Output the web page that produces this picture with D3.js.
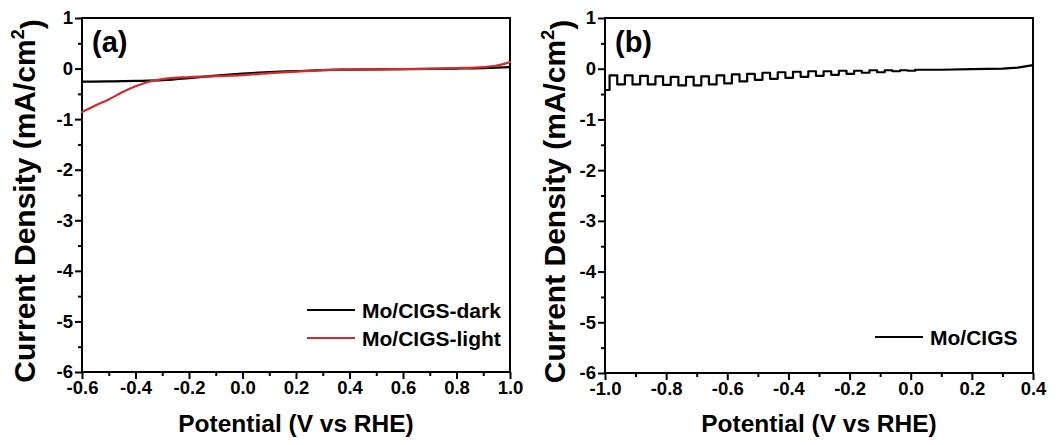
<!DOCTYPE html>
<html><head><meta charset="utf-8">
<script src="https://cdn.jsdelivr.net/npm/d3@7"></script>
<style>
html,body{margin:0;padding:0;background:#fff;}
svg{display:block;font-family:"Liberation Sans",Arial,sans-serif;font-weight:bold;}
</style></head>
<body><svg id="c" width="1061" height="445"></svg>
<script>
// ---------- data ----------
// Panel (a): dark and light J-V curves
const aDarkV  = [-0.6,-0.5,-0.4,-0.3,-0.2,-0.1,0.0,0.1,0.2,0.3,0.4,0.6,0.8,0.9,1.0];
const aDarkJ  = [-0.26,-0.255,-0.245,-0.23,-0.19,-0.14,-0.10,-0.07,-0.05,-0.03,-0.02,-0.01,0.0,0.01,0.03];
const aLightV = [-0.6,-0.55,-0.5,-0.45,-0.4,-0.35,-0.3,-0.2,-0.1,0.0,0.1,0.2,0.3,0.4,0.6,0.8,0.9,0.95,1.0];
const aLightJ = [-0.86,-0.73,-0.61,-0.47,-0.35,-0.26,-0.21,-0.17,-0.15,-0.13,-0.09,-0.06,-0.03,-0.02,-0.01,0.01,0.03,0.06,0.13];
// Panel (b): chopped-light scan (step levels) and the flat tail
const bChopV = [-1.000,-0.985,-0.960,-0.935,-0.910,-0.885,-0.860,-0.835,-0.810,-0.785,-0.760,-0.735,-0.710,-0.685,-0.660,-0.635,-0.610,-0.585,-0.560,-0.535,-0.510,-0.485,-0.460,-0.435,-0.410,-0.385,-0.360,-0.335,-0.310,-0.285,-0.260,-0.235,-0.210,-0.185,-0.160,-0.135,-0.110,-0.085,-0.060,-0.035,-0.010,0.015];
const bChopJ = [-0.42,-0.13,-0.31,-0.13,-0.31,-0.14,-0.31,-0.15,-0.32,-0.16,-0.33,-0.16,-0.33,-0.15,-0.31,-0.13,-0.29,-0.11,-0.25,-0.10,-0.22,-0.08,-0.20,-0.07,-0.18,-0.06,-0.16,-0.05,-0.14,-0.05,-0.12,-0.04,-0.10,-0.04,-0.08,-0.03,-0.07,-0.03,-0.05,-0.03,-0.04,-0.02];
const bTailV = [0.015,0.10,0.20,0.30,0.35,0.40];
const bTailJ = [-0.02,-0.02,-0.01,0.00,0.02,0.07];
// ticks
const yTicks = [1,0,-1,-2,-3,-4,-5,-6];
const yMinor = [0.5,-0.5,-1.5,-2.5,-3.5,-4.5,-5.5];
const aXTicks = [-0.6,-0.4,-0.2,0.0,0.2,0.4,0.6,0.8,1.0];
const aXMinor = [-0.5,-0.3,-0.1,0.1,0.3,0.5,0.7,0.9];
const bXTicks = [-1.0,-0.8,-0.6,-0.4,-0.2,0.0,0.2,0.4];
const bXMinor = [-0.9,-0.7,-0.5,-0.3,-0.1,0.1,0.3];
const legendA = ["Mo/CIGS-dark","Mo/CIGS-light"];
const legendB = ["Mo/CIGS"];
const xTitle = "Potential (V vs RHE)";

// ---------- drawing ----------
const svg = d3.select("#c");
const zip = (a,b)=>a.map((v,i)=>[v,b[i]]);

function panel(cfg){
  const x = d3.scaleLinear().domain(cfg.xd).range([cfg.left, cfg.right]);
  const y = d3.scaleLinear().domain([-6,1]).range([cfg.bottom, cfg.top]);
  const g = svg.append("g");
  const fmtX = d=>d.toFixed(1);
  const fmtY = d=>String(d);
  const ax = g.append("g").attr("transform",`translate(0,${cfg.bottom})`)
    .call(d3.axisBottom(x).tickValues(cfg.xt).tickFormat(fmtX).tickSize(7).tickPadding(2));
  const axm = g.append("g").attr("transform",`translate(0,${cfg.bottom})`)
    .call(d3.axisBottom(x).tickValues(cfg.xm).tickFormat("").tickSize(4));
  const ay = g.append("g").attr("transform",`translate(${cfg.left},0)`)
    .call(d3.axisLeft(y).tickValues(yTicks).tickFormat(fmtY).tickSize(7).tickPadding(2));
  const aym = g.append("g").attr("transform",`translate(${cfg.left},0)`)
    .call(d3.axisLeft(y).tickValues(yMinor).tickFormat("").tickSize(4));
  [ax,axm,ay,aym].forEach(a=>{
    a.select(".domain").remove();
    a.selectAll("line").attr("stroke","#000").attr("stroke-width",2);
    a.selectAll("text").attr("fill","#000").style("font-size","18.5px").style("font-weight","bold")
      .style("font-family",'"Liberation Sans",Arial,sans-serif');
  });
  g.append("rect").attr("x",cfg.left).attr("y",cfg.top)
    .attr("width",cfg.right-cfg.left).attr("height",cfg.bottom-cfg.top)
    .attr("fill","none").attr("stroke","#000").attr("stroke-width",2);
  cfg.series.forEach(s=>{
    const line = d3.line().x(d=>x(d[0])).y(d=>y(d[1])).curve(s.curve||d3.curveMonotoneX);
    g.append("path").datum(s.data).attr("d",line)
      .attr("fill","none").attr("stroke",s.color).attr("stroke-width",2.2)
      .attr("stroke-linejoin","round").attr("stroke-linecap","round");
  });
  g.append("text").attr("x",cfg.left+10).attr("y",cfg.top+34).text(cfg.tag)
    .style("font-size","29px");
  cfg.legend.forEach((L,i)=>{
    const ly = cfg.legY + i*28;
    g.append("line").attr("x1",cfg.legX).attr("x2",cfg.legX+48).attr("y1",ly).attr("y2",ly)
      .attr("stroke",L.color).attr("stroke-width",2.2);
    g.append("text").attr("x",cfg.legX+55).attr("y",ly).attr("dy","0.36em").text(L.name)
      .style("font-size","21px");
  });
  g.append("text").attr("x",(cfg.left+cfg.right)/2).attr("y",432).attr("text-anchor","middle")
    .text(xTitle).style("font-size","24.5px");
  const yt = g.append("text").attr("transform",`translate(${cfg.ytx},${(cfg.top+cfg.bottom)/2+6}) rotate(-90)`)
    .attr("text-anchor","middle").style("font-size","30px");
  yt.append("tspan").text("Current Density (mA/cm");
  yt.append("tspan").text("2").attr("dy","-0.6em").style("font-size","18px");
  yt.append("tspan").text(")").attr("dy","0.6em");
}

panel({
  left:82,right:510,top:18,bottom:372,xd:[-0.6,1.0],xt:aXTicks,xm:aXMinor,tag:"(a)",ytx:35,
  series:[
    {data:zip(aDarkV,aDarkJ),color:"#000"},
    {data:zip(aLightV,aLightJ),color:"#d42a2a"}
  ],
  legend:[{name:legendA[0],color:"#000"},{name:legendA[1],color:"#d42a2a"}],
  legX:307,legY:310
});
panel({
  left:605,right:1033,top:18,bottom:373,xd:[-1.0,0.4],xt:bXTicks,xm:bXMinor,tag:"(b)",ytx:565,
  series:[
    {data:zip(bChopV,bChopJ),color:"#000",curve:d3.curveStepAfter},
    {data:zip(bTailV,bTailJ),color:"#000",curve:d3.curveLinear}
  ],
  legend:[{name:legendB[0],color:"#000"}],
  legX:875,legY:337
});
</script></body></html>
